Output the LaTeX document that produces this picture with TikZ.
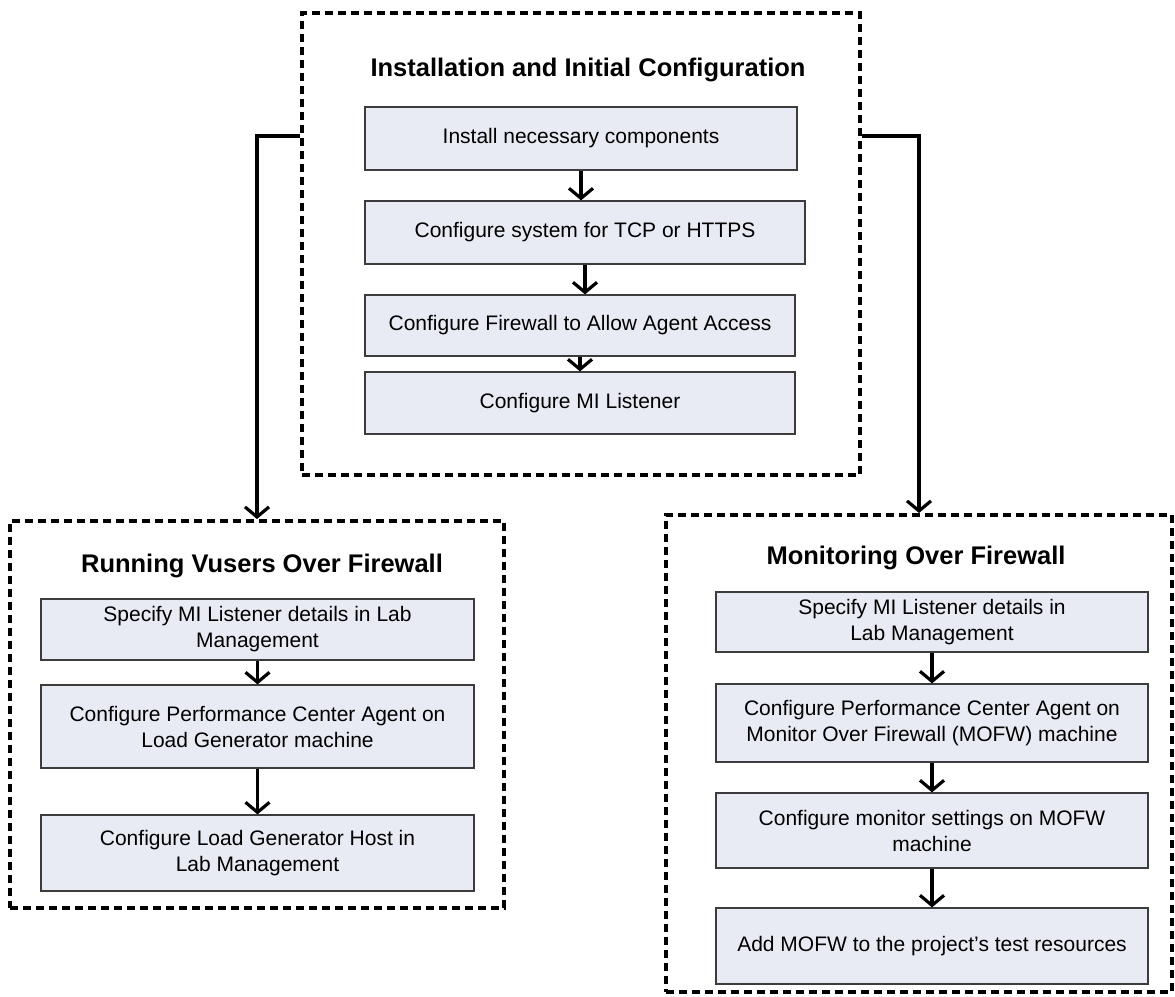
\documentclass[tikz,border=0pt]{standalone}
\usepackage{fontspec}
\setmainfont{Liberation Sans}
\usepackage{tikz}
\usetikzlibrary{arrows.meta}

\definecolor{stepfill}{HTML}{E8EBF3}
\definecolor{stepline}{HTML}{3C3C3C}

\tikzset{
  stepbox/.style={draw=stepline, line width=1.2pt, fill=stepfill, align=center,
    inner sep=2pt, font=\fontsize{21}{26}\selectfont},
  frame/.style={draw=black, line width=4pt, dash pattern=on 8pt off 5pt},
  heading/.style={font=\fontsize{25.5}{30}\selectfont\bfseries},
  flow/.style={line width=3.2pt, -{Straight Barb[length=10pt,width=24pt,line width=3.2pt]}}
}

\begin{document}
\begin{tikzpicture}[x=1pt,y=-1pt]
\useasboundingbox (0,0) rectangle (1175,996);

\node[frame, minimum width=558pt, minimum height=462pt] (install) at (581,244) {};
\node[frame, minimum width=494pt, minimum height=387pt] (vusers) at (257,714.5) {};
\node[frame, minimum width=506pt, minimum height=477pt] (monitor) at (919,753.5) {};

\node[heading] (ttop) at (588,70) {Installation and Initial Configuration};
\node[heading] (tleft) at (262,566) {Running Vusers Over Firewall};
\node[heading] (tright) at (916,558) {Monitoring Over Firewall};

\node[stepbox, minimum width=432pt, minimum height=63pt] (i1) at (581,138.5) {Install necessary components};
\node[stepbox, minimum width=440pt, minimum height=63pt] (i2) at (585,232.5) {Configure system for TCP or HTTPS};
\node[stepbox, minimum width=430pt, minimum height=61pt] (i3) at (580,325.5) {Configure Firewall to Allow Agent Access};
\node[stepbox, minimum width=430pt, minimum height=62pt] (i4) at (580,403) {Configure MI Listener};

\node[stepbox, minimum width=433pt, minimum height=61pt] (v1) at (257.5,629.5) {Specify MI Listener details in Lab\\Management};
\node[stepbox, minimum width=433pt, minimum height=83pt] (v2) at (257.5,726.5) {Configure Performance Center Agent on\\Load Generator machine};
\node[stepbox, minimum width=433pt, minimum height=76pt] (v3) at (257.5,853) {Configure Load Generator Host in\\Lab Management};

\node[stepbox, minimum width=432pt, minimum height=60pt] (m1) at (932,622) {Specify MI Listener details in\\Lab Management};
\node[stepbox, minimum width=432pt, minimum height=78pt] (m2) at (932,723) {Configure Performance Center Agent on\\Monitor Over Firewall (MOFW) machine};
\node[stepbox, minimum width=432pt, minimum height=75pt] (m3) at (932,830.5) {Configure monitor settings on MOFW\\machine};
\node[stepbox, minimum width=432pt, minimum height=76pt] (m4) at (932,946) {Add MOFW to the project's test resources};

\draw[flow] (i1.south) -- (i1.south |- i2.north);
\draw[flow] (i2.south) -- (i2.south |- i3.north);
\draw[flow] (i3.south) -- (i3.south |- i4.north);

\draw[flow] (v1) -- (v2);
\draw[flow] (v2) -- (v3);

\draw[flow] (m1) -- (m2);
\draw[flow] (m2) -- (m3);
\draw[flow] (m3) -- (m4);

\draw[flow] (install.west |- 0,136) -| (vusers.north);
\draw[flow] (install.east |- 0,136) -| (monitor.north);
\end{tikzpicture}
\end{document}
